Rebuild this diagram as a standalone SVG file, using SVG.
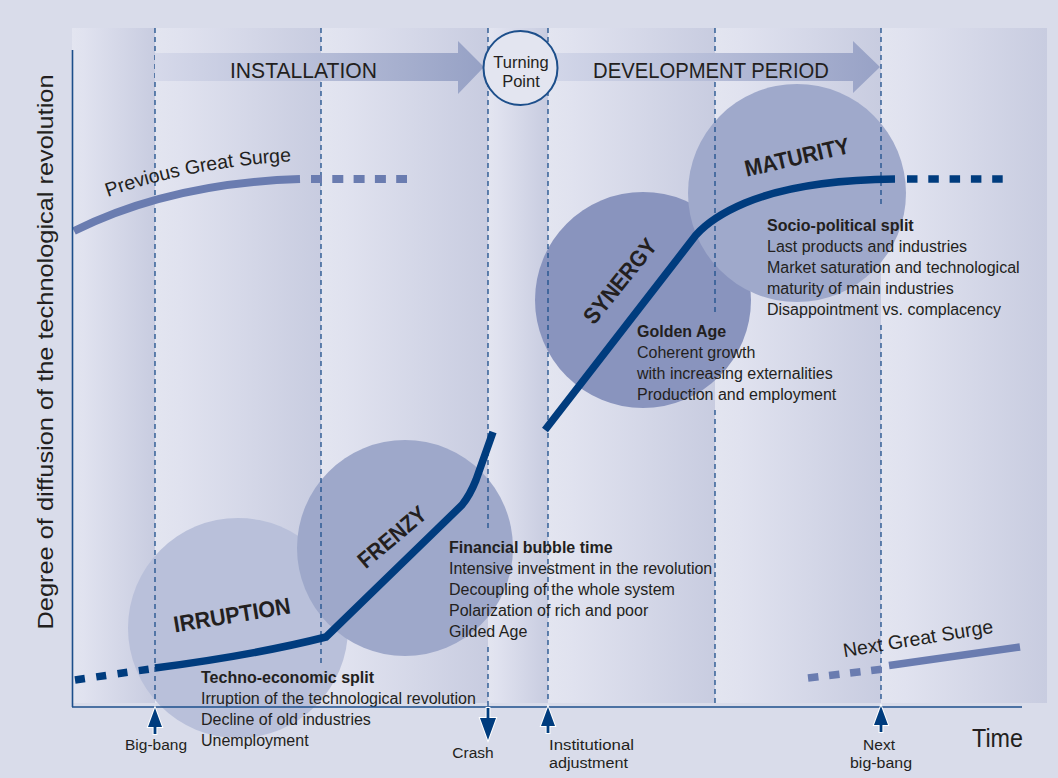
<svg xmlns="http://www.w3.org/2000/svg" width="1058" height="778" viewBox="0 0 1058 778">
<defs>
<linearGradient id="band" x1="0" y1="0" x2="1" y2="0"><stop offset="0" stop-color="#e3e5f0"/><stop offset="0.15" stop-color="#e0e2ef"/><stop offset="1" stop-color="#c8cce0"/></linearGradient>
<linearGradient id="arrI" gradientUnits="userSpaceOnUse" x1="155" y1="0" x2="484" y2="0"><stop offset="0" stop-color="#d6d9ea"/><stop offset="1" stop-color="#96a1c5"/></linearGradient>
<linearGradient id="arrD" gradientUnits="userSpaceOnUse" x1="548" y1="0" x2="880" y2="0"><stop offset="0" stop-color="#d3d7e9"/><stop offset="1" stop-color="#98a2c6"/></linearGradient>
<path id="up" d="M0,0 L7,19 L1.4,19 L1.4,26 L-1.4,26 L-1.4,19 L-7,19 Z"/>
<path id="prevPath" d="M100,200 Q190,166 300,161"/>
<style>
.dash{stroke:#1d4f8b;stroke-width:1.3;stroke-dasharray:5 4;fill:none}
.t{font-family:"Liberation Sans",Arial,sans-serif;font-size:16px;fill:#231f20}
.b{font-weight:bold}
.lab{font-family:"Liberation Sans",Arial,sans-serif;font-size:15.5px;fill:#231f20}
.big{font-family:"Liberation Sans",Arial,sans-serif;font-weight:bold;font-size:23px;fill:#231f20}
.hdr{font-family:"Liberation Sans",Arial,sans-serif;font-size:22px;fill:#231f20}
.surge{font-family:"Liberation Sans",Arial,sans-serif;font-size:19.5px;fill:#231f20}
.main{stroke:#003c7e;stroke-width:7.5;fill:none}
.lite{stroke:#6a7cb0;stroke-width:8;fill:none}
.arw{fill:#003c7e;stroke:#ffffff;stroke-width:2;paint-order:stroke}
.axis{stroke:#1d4f8b;stroke-width:1.6;fill:none}
</style>
</defs>
<rect x="0" y="0" width="1058" height="778" fill="#d9dcea"/>
<g id="bands">
<rect x="72" y="28" width="83" height="675" fill="url(#band)"/>
<rect x="155" y="28" width="166" height="675" fill="url(#band)"/>
<rect x="321" y="28" width="167" height="675" fill="url(#band)"/>
<rect x="488" y="28" width="60" height="675" fill="url(#band)"/>
<rect x="548" y="28" width="167" height="675" fill="url(#band)"/>
<rect x="715" y="28" width="166" height="675" fill="url(#band)"/>
<rect x="881" y="28" width="166" height="675" fill="url(#band)"/>
</g>
<g id="irruption"><circle cx="238" cy="628" r="110" fill="#b9c0da"/></g>
<g id="frenzy"><circle cx="405" cy="548" r="108" fill="#9ea8ca"/></g>
<g id="synergy"><circle cx="643" cy="300" r="108" fill="#8994be"/></g>
<g id="maturity"><circle cx="797" cy="193" r="109" fill="#9fa9cb"/></g>
<g id="dividers">
<line class="dash" x1="155" y1="28" x2="155" y2="703"/>
<line class="dash" x1="321" y1="28" x2="321" y2="663"/>
<line class="dash" x1="488" y1="28" x2="488" y2="532"/>
<line class="dash" x1="488" y1="647" x2="488" y2="706"/>
<line class="dash" x1="548" y1="28" x2="548" y2="703"/>
<line class="dash" x1="715" y1="28" x2="715" y2="315"/>
<line class="dash" x1="715" y1="410" x2="715" y2="703"/>
<line class="dash" x1="881" y1="28" x2="881" y2="208"/>
<line class="dash" x1="881" y1="325" x2="881" y2="703"/>
</g>
<g id="installation">
<path d="M155,53 L458,53 L458,41 L484,67 L458,94 L458,81 L155,81 Z" fill="url(#arrI)"/>
<text class="hdr" x="230" y="78" textLength="147" lengthAdjust="spacingAndGlyphs">INSTALLATION</text>
</g>
<g id="development">
<path d="M540,53 L853,53 L853,41 L880,67 L853,93 L853,81 L540,81 Z" fill="url(#arrD)"/>
<text class="hdr" x="593" y="78" textLength="236" lengthAdjust="spacingAndGlyphs">DEVELOPMENT PERIOD</text>
</g>
<g id="turning-point">
<circle cx="520.5" cy="68" r="37" fill="#e3e5f0" stroke="#1d4f8b" stroke-width="2"/>
<text class="t" x="521" y="68" text-anchor="middle" style="font-size:16.5px">Turning</text>
<text class="t" x="521" y="87" text-anchor="middle" style="font-size:16.5px">Point</text>
</g>
<g id="connectors">
<path class="lite" d="M74,231 Q170,183 300,179"/>
<path class="lite" d="M311,179 L407,179" stroke-dasharray="11 10.3"/>
<path class="lite" d="M808,678 L883,669" stroke-dasharray="10.5 10.7" style="stroke-width:7.5"/>
<path class="lite" d="M889,665.5 L1020,647" style="stroke-width:7.5"/>
<path class="main" d="M75,680 L150,669" stroke-dasharray="10 11.5"/>
<path class="main" d="M155,668 Q255,655 326,637 L462,505 Q470,495 476,480 L493,432"/>
<path class="main" d="M545,430 L696,235 Q712,217 745,203 Q800,180 895,179"/>
<path class="main" d="M907,179 L1003,179" stroke-dasharray="10.5 10.8"/>
</g>
<g id="surge-labels">
<text class="surge"><textPath href="#prevPath" startOffset="50%" text-anchor="middle">Previous Great Surge</textPath></text>
<text class="surge" transform="translate(919,645) rotate(-9.3)" text-anchor="middle">Next Great Surge</text>
</g>
<g id="phase-labels">
<text class="big" transform="translate(232,615) rotate(-9.4)" x="0" y="8" text-anchor="middle" textLength="118" lengthAdjust="spacingAndGlyphs">IRRUPTION</text>
<text class="big" transform="translate(392,537) rotate(-40)" x="0" y="8" text-anchor="middle" textLength="82" lengthAdjust="spacingAndGlyphs">FRENZY</text>
<text class="big" transform="translate(620,281) rotate(-51)" x="0" y="8" text-anchor="middle" textLength="102" lengthAdjust="spacingAndGlyphs">SYNERGY</text>
<text class="big" transform="translate(797,157) rotate(-13)" x="0" y="8" text-anchor="middle" textLength="107" lengthAdjust="spacingAndGlyphs">MATURITY</text>
</g>
<g id="techno-economic">
<text class="t b" x="201" y="683">Techno-economic split</text>
<text class="t" x="201" y="704">Irruption of the technological revolution</text>
<text class="t" x="201" y="725">Decline of old industries</text>
<text class="t" x="201" y="746">Unemployment</text>
</g>
<g id="financial">
<text class="t b" x="449" y="553">Financial bubble time</text>
<text class="t" x="449" y="574">Intensive investment in the revolution</text>
<text class="t" x="449" y="595">Decoupling of the whole system</text>
<text class="t" x="449" y="616">Polarization of rich and poor</text>
<text class="t" x="449" y="637">Gilded Age</text>
</g>
<g id="golden">
<text class="t b" x="637" y="337">Golden Age</text>
<text class="t" x="637" y="358">Coherent growth</text>
<text class="t" x="637" y="379">with increasing externalities</text>
<text class="t" x="637" y="400">Production and employment</text>
</g>
<g id="socio">
<text class="t b" x="767" y="231">Socio-political split</text>
<text class="t" x="767" y="252">Last products and industries</text>
<text class="t" x="767" y="273">Market saturation and technological</text>
<text class="t" x="767" y="294">maturity of main industries</text>
<text class="t" x="767" y="315">Disappointment vs. complacency</text>
</g>
<g id="axes">
<line class="axis" x1="72.5" y1="50" x2="72.5" y2="707"/>
<line class="axis" x1="72" y1="707" x2="1022" y2="707"/>
<text transform="translate(53,352) rotate(-90)" text-anchor="middle" font-family="Liberation Sans, Arial, sans-serif" font-size="22" fill="#231f20" textLength="555" lengthAdjust="spacingAndGlyphs">Degree of diffusion of the technological revolution</text>
<text x="972" y="747" font-family="Liberation Sans, Arial, sans-serif" font-size="26" fill="#231f20" textLength="51" lengthAdjust="spacingAndGlyphs">Time</text>
</g>
<g id="events">
<use href="#up" x="155" y="708" class="arw"/>
<path class="arw" d="M488,740 L480,718 L486.6,718 L486.6,708 L489.4,708 L489.4,718 L496,718 Z"/>
<use href="#up" x="548" y="707" class="arw"/>
<use href="#up" x="881" y="706" class="arw"/>
<text class="lab" x="156" y="750" text-anchor="middle" textLength="62" lengthAdjust="spacingAndGlyphs">Big-bang</text>
<text class="lab" x="473" y="758" text-anchor="middle">Crash</text>
<text class="lab" x="549" y="750" textLength="85" lengthAdjust="spacingAndGlyphs">Institutional</text>
<text class="lab" x="549" y="768" textLength="79" lengthAdjust="spacingAndGlyphs">adjustment</text>
<text class="lab" x="879" y="750" text-anchor="middle">Next</text>
<text class="lab" x="881" y="768" text-anchor="middle" textLength="62" lengthAdjust="spacingAndGlyphs">big-bang</text>
</g>
</svg>
